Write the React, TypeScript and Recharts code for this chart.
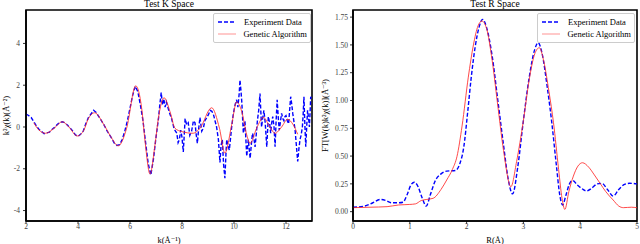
import React from "react";
import { LineChart, Line, XAxis, YAxis, Legend, ReferenceArea } from "recharts";

// ---- K space ----
const kExp = [2.0, 2.1, 2.2, 2.3, 2.4, 2.5, 2.6, 2.7, 2.8, 2.9, 3.0, 3.1, 3.2, 3.3, 3.4, 3.5, 3.6, 3.7, 3.8, 3.9, 4.0, 4.1, 4.2, 4.3, 4.4, 4.5, 4.6, 4.7, 4.8, 4.9, 5.0, 5.1, 5.2, 5.3, 5.4, 5.5, 5.6, 5.7, 5.8, 5.9, 6.0, 6.1, 6.2, 6.3, 6.4, 6.5, 6.6, 6.7, 6.8, 6.9, 7.0, 7.1, 7.15, 7.2, 7.25, 7.3, 7.35, 7.4, 7.5, 7.6, 7.7, 7.8, 7.85, 7.9, 7.95, 8.0, 8.05, 8.12, 8.18, 8.24, 8.3, 8.37, 8.44, 8.5, 8.55, 8.59, 8.64, 8.69, 8.76, 8.82, 8.88, 8.95, 9.02, 9.08, 9.15, 9.21, 9.27, 9.33, 9.4, 9.46, 9.5, 9.55, 9.6, 9.65, 9.69, 9.72, 9.77, 9.82, 9.87, 9.91, 9.96, 10.0, 10.05, 10.1, 10.15, 10.2, 10.23, 10.27, 10.3, 10.36, 10.42, 10.49, 10.55, 10.62, 10.67, 10.71, 10.76, 10.81, 10.86, 10.9, 10.95, 11.0, 11.06, 11.1, 11.15, 11.2, 11.26, 11.32, 11.37, 11.41, 11.45, 11.49, 11.54, 11.58, 11.62, 11.66, 11.7, 11.74, 11.78, 11.83, 11.88, 11.92, 11.96, 12.0, 12.05, 12.1, 12.14, 12.18, 12.22, 12.26, 12.3, 12.35, 12.4, 12.45, 12.5, 12.54, 12.58, 12.63, 12.66, 12.69, 12.72, 12.76, 12.8, 12.83, 12.87, 12.9, 12.93, 12.95, 13.0];
const chiExp = [0.62, 0.55, 0.45, 0.25, 0.05, -0.12, -0.22, -0.32, -0.28, -0.25, -0.12, -0.02, 0.12, 0.22, 0.25, 0.2, 0.08, -0.05, -0.2, -0.38, -0.45, -0.35, -0.2, 0.15, 0.45, 0.62, 0.8, 0.7, 0.5, 0.3, 0.1, -0.15, -0.35, -0.55, -0.78, -0.88, -0.85, -0.6, -0.2, 0.3, 0.9, 1.5, 1.95, 1.7, 1.05, 0.3, -0.75, -1.75, -2.3, -1.55, -0.5, 0.45, 1.1, 1.65, 1.05, 1.35, 0.95, 1.2, 0.75, 0.4, -0.1, -0.3, -0.75, -0.6, -0.15, -0.5, -1.2, 0.4, 0.1, 0.2, -0.4, -0.2, 0.3, 0.2, -0.4, -0.78, -0.1, 0.45, -0.2, -0.06, 0.3, 0.45, 0.6, 0.8, 0.75, 0.6, 0.3, 0.0, -0.6, -1.7, -0.9, -0.6, -1.8, -2.45, -1.3, -0.6, -0.9, -1.1, -0.5, 0.0, 0.5, 0.8, 1.1, 1.3, 0.95, 1.6, 2.25, 1.7, 1.2, -0.3, 0.3, -1.4, -0.6, -1.5, -0.8, -0.3, -0.5, -0.95, -0.3, 0.3, 0.8, 1.6, 0.0, 0.4, 0.8, 0.2, -0.95, 0.5, 0.2, -0.3, 0.2, 0.5, 0.0, -0.95, 0.3, 1.3, 0.5, -0.15, 0.2, 0.65, 0.4, 0.3, 0.5, 0.55, 0.3, 0.15, 0.8, 1.45, 1.1, 0.65, 0.3, -0.15, -0.9, -1.65, -1.0, -0.6, -0.4, 0.0, 0.6, 1.45, 0.3, -0.95, 0.1, 0.8, 0.4, 0.0, 0.8, 1.45, 1.3];
const kGA = [2.3, 2.5, 2.76, 3.08, 3.4, 3.65, 3.97, 4.23, 4.38, 4.64, 5.0, 5.26, 5.55, 5.87, 6.22, 6.45, 6.58, 6.77, 6.96, 7.09, 7.31, 7.54, 7.73, 7.99, 8.43, 8.69, 9.14, 9.44, 9.65, 9.91, 10.1, 10.3, 10.49, 10.62, 10.87, 11.13, 11.38, 11.58, 11.83, 12.06, 12.28, 12.45];
const chiGA = [0.2, -0.15, -0.3, -0.06, 0.25, 0.0, -0.43, -0.14, 0.35, 0.68, 0.1, -0.46, -0.9, -0.06, 1.97, 0.89, -0.7, -2.25, -0.86, 0.41, 1.4, 0.73, -0.06, -0.22, -0.3, -0.06, 0.92, -0.06, -1.25, 0.1, 1.2, 0.73, -0.38, -0.78, -0.06, 0.46, 0.0, -0.3, 0.0, 0.37, 0.1, -0.35];
const kDomain = [2, 13];
const chiDomain = [-4.5, 5.6];
const kTicks = [2, 4, 6, 8, 10, 12];
const chiTicks = [-4, -2, 0, 2, 4];

// ---- R space ----
const rExp = [0, 0.2, 0.35, 0.48, 0.58, 0.68, 0.8, 0.88, 0.95, 1.02, 1.08, 1.15, 1.22, 1.29, 1.36, 1.45, 1.55, 1.65, 1.8, 1.88, 1.95, 2.02, 2.08, 2.15, 2.22, 2.28, 2.35, 2.45, 2.55, 2.65, 2.73, 2.81, 2.9, 3.0, 3.1, 3.2, 3.26, 3.33, 3.42, 3.5, 3.58, 3.64, 3.69, 3.75, 3.82, 3.87, 3.95, 4.05, 4.11, 4.2, 4.3, 4.38, 4.48, 4.58, 4.68, 4.78, 4.87, 5.0];
const ftExp = [0.04, 0.05, 0.08, 0.11, 0.1, 0.08, 0.08, 0.085, 0.15, 0.24, 0.265, 0.22, 0.12, 0.05, 0.15, 0.28, 0.34, 0.365, 0.37, 0.43, 0.58, 0.9, 1.2, 1.48, 1.66, 1.73, 1.66, 1.4, 1.0, 0.6, 0.3, 0.16, 0.4, 0.82, 1.2, 1.46, 1.52, 1.42, 1.12, 0.8, 0.42, 0.15, 0.06, 0.15, 0.26, 0.28, 0.24, 0.2, 0.186, 0.21, 0.25, 0.255, 0.2, 0.14, 0.2, 0.245, 0.255, 0.25];
const rGA = [0, 0.3, 0.6, 0.8, 1.0, 1.1, 1.2, 1.3, 1.41, 1.55, 1.65, 1.75, 1.83, 1.92, 2.03, 2.12, 2.2, 2.27, 2.35, 2.45, 2.55, 2.65, 2.78, 2.88, 3.0, 3.1, 3.2, 3.28, 3.36, 3.45, 3.53, 3.62, 3.68, 3.73, 3.8, 3.88, 3.96, 4.04, 4.15, 4.25, 4.35, 4.45, 4.58, 4.68, 4.76, 4.9, 5.0];
const ftGA = [0.036, 0.04, 0.045, 0.06, 0.065, 0.07, 0.1, 0.11, 0.12, 0.2, 0.285, 0.38, 0.495, 0.77, 1.21, 1.5, 1.67, 1.715, 1.65, 1.36, 0.95, 0.55, 0.225, 0.45, 0.82, 1.18, 1.42, 1.475, 1.35, 1.08, 0.8, 0.38, 0.12, 0.02, 0.18, 0.32, 0.41, 0.44, 0.4, 0.33, 0.255, 0.18, 0.105, 0.05, 0.036, 0.04, 0.035];
const rDomain = [0, 5];
const ftDomain = [-0.084, 1.814];
const rTicks = [0, 1, 2, 3, 4, 5];
const ftTicks = [0, 0.25, 0.5, 0.75, 1.0, 1.25, 1.5, 1.75];

const seriesNames = ["Experiment Data", "Genetic Algorithm"];

const kExpData = kExp.map((k, i) => ({ x: k, y: chiExp[i] }));
const kGAData = kGA.map((k, i) => ({ x: k, y: chiGA[i] }));
const rExpData = rExp.map((r, i) => ({ x: r, y: ftExp[i] }));
const rGAData = rGA.map((r, i) => ({ x: r, y: ftGA[i] }));

const FONT = "'Liberation Serif', 'DejaVu Serif', serif";
const BLUE = "#0000ff";
const RED = "#ff2a2a";
const tickStyle = { fontSize: 7.5, fill: "#444", fontFamily: FONT };
const axisLine = { stroke: "#000", strokeWidth: 1.6 };
const tickLine = { stroke: "#000", strokeWidth: 0.8 };

const LegendBox = () => (
  <div
    style={{
      border: "1px solid #ccc",
      borderRadius: 2,
      background: "#fff",
      fontFamily: FONT,
      fontSize: 8.5,
      padding: "2px 3px",
      lineHeight: "12px",
      boxSizing: "border-box",
      width: 98,
    }}
  >
    <div style={{ display: "flex", alignItems: "center", whiteSpace: "nowrap" }}>
      <svg width={20} height={10} style={{ marginRight: 7 }}>
        <line x1={1} y1={5} x2={19} y2={5} stroke={BLUE} strokeWidth={1.5} strokeDasharray="4 2" />
      </svg>
      <span>{seriesNames[0]}</span>
    </div>
    <div style={{ display: "flex", alignItems: "center", whiteSpace: "nowrap" }}>
      <svg width={20} height={10} style={{ marginRight: 7 }}>
        <line x1={1} y1={5} x2={19} y2={5} stroke={RED} strokeOpacity={0.5} strokeWidth={1} />
      </svg>
      <span>{seriesNames[1]}</span>
    </div>
  </div>
);

const Title = ({ text, left, width }: { text: string; left: number; width: number }) => (
  <div
    style={{
      position: "absolute",
      top: -1,
      left,
      width,
      textAlign: "center",
      fontFamily: FONT,
      fontSize: 9.5,
      lineHeight: "11px",
      color: "#000",
    }}
  >
    {text}
  </div>
);

export default function App() {
  return (
    <div style={{ position: "absolute", left: 0, top: 0, width: 640, height: 244, background: "#fff", overflow: "hidden" }}>
      <Title text="Test K Space" left={26} width={286} />
      <Title text="Test R Space" left={353} width={284} />
      <div style={{ position: "absolute", left: 0, top: 0 }}>
        <LineChart width={320} height={244} margin={{ top: 10, right: 8, bottom: 0, left: 0 }}>
          <XAxis
            dataKey="x"
            type="number"
            domain={kDomain}
            ticks={kTicks}
            allowDataOverflow
            height={23}
            tick={tickStyle}
            tickSize={3}
            tickMargin={0}
            axisLine={axisLine}
            tickLine={tickLine}
            label={{ value: "k(Å⁻¹)", position: "insideBottom", offset: 1, style: { fontSize: 8.5, fontFamily: FONT, fill: "#000" } }}
          />
          <YAxis
            type="number"
            domain={chiDomain}
            ticks={chiTicks}
            allowDataOverflow
            width={26}
            tick={tickStyle}
            tickSize={3}
            tickMargin={3}
            axisLine={axisLine}
            tickLine={tickLine}
            label={{ value: "k²χ(k)(Å⁻²)", angle: -90, position: "insideLeft", offset: 6, style: { textAnchor: "middle", fontSize: 8.5, fontFamily: FONT, fill: "#000" } }}
          />
          <ReferenceArea x1={kDomain[0]} x2={kDomain[1]} y1={chiDomain[0]} y2={chiDomain[1]} fill="none" fillOpacity={0} stroke="#000" strokeWidth={1.6} />
          <Legend
            layout="horizontal"
            verticalAlign="middle"
            align="center"
            content={() => <LegendBox />}
            wrapperStyle={{ position: "absolute", top: 13, left: 213, width: 98, height: 28 }}
          />
          <Line data={kExpData} dataKey="y" name={seriesNames[0]} type="linear" stroke={BLUE} strokeWidth={1.4} strokeDasharray="4 2" dot={false} isAnimationActive={false} />
          <Line data={kGAData} dataKey="y" name={seriesNames[1]} type="monotone" stroke={RED} strokeOpacity={0.85} strokeWidth={1} dot={false} isAnimationActive={false} />
        </LineChart>
      </div>
      <div style={{ position: "absolute", left: 320, top: 0 }}>
        <LineChart width={320} height={244} margin={{ top: 10, right: 3, bottom: 0, left: 0 }}>
          <XAxis
            dataKey="x"
            type="number"
            domain={rDomain}
            ticks={rTicks}
            allowDataOverflow
            height={23}
            tick={tickStyle}
            tickSize={3}
            tickMargin={0}
            axisLine={axisLine}
            tickLine={tickLine}
            label={{ value: "R(Å)", position: "insideBottom", offset: 1, style: { fontSize: 8.5, fontFamily: FONT, fill: "#000" } }}
          />
          <YAxis
            type="number"
            domain={ftDomain}
            ticks={ftTicks}
            allowDataOverflow
            width={33}
            tick={tickStyle}
            tickSize={3}
            tickMargin={2}
            tickFormatter={(v: number) => v.toFixed(2)}
            axisLine={axisLine}
            tickLine={tickLine}
            label={{ value: "FT[W(k)k²χ(k)](Å⁻³)", angle: -90, position: "insideLeft", offset: 5, style: { textAnchor: "middle", fontSize: 8.5, fontFamily: FONT, fill: "#000" } }}
          />
          <ReferenceArea x1={rDomain[0]} x2={rDomain[1]} y1={ftDomain[0]} y2={ftDomain[1]} fill="none" fillOpacity={0} stroke="#000" strokeWidth={1.6} />
          <Legend
            layout="horizontal"
            verticalAlign="middle"
            align="center"
            content={() => <LegendBox />}
            wrapperStyle={{ position: "absolute", top: 13, left: 217, width: 98, height: 28 }}
          />
          <Line data={rExpData} dataKey="y" name={seriesNames[0]} type="monotone" stroke={BLUE} strokeWidth={1.4} strokeDasharray="4 2" dot={false} isAnimationActive={false} />
          <Line data={rGAData} dataKey="y" name={seriesNames[1]} type="monotone" stroke={RED} strokeOpacity={0.85} strokeWidth={1} dot={false} isAnimationActive={false} />
        </LineChart>
      </div>
    </div>
  );
}
